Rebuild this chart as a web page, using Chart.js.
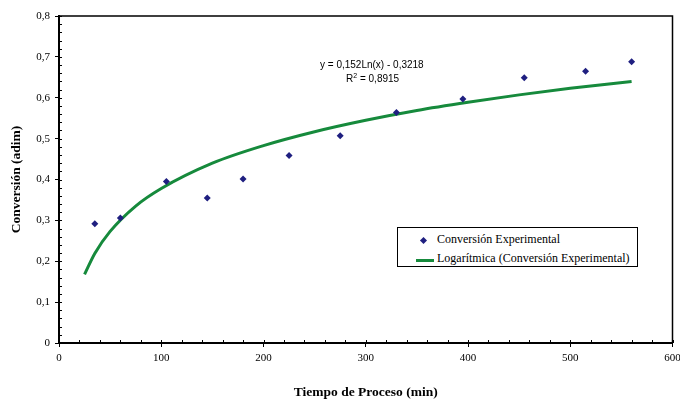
<!DOCTYPE html>
<html>
<head>
<meta charset="utf-8">
<script src="https://cdn.jsdelivr.net/npm/chart.js@4.4.1/dist/chart.umd.min.js"></script>
<style>
    body { margin: 0; background: #fff; }
    #wrap { position: relative; width: 680px; height: 401px; }
    .eq { position: absolute; font-family: "Liberation Sans", Arial, sans-serif; font-size: 10px; color: #000; white-space: nowrap; }
    #legend { position: absolute; left: 397px; top: 227px; width: 239px; height: 38px; border: 1px solid #000;
              font-family: "Liberation Serif", "Times New Roman", serif; font-size: 12px; background: #fff; }
    .item { position: absolute; left: 0; white-space: nowrap; }
    .diamond { position: absolute; left: 23px; top: 4px; width: 5px; height: 5px; background: #1f1f80; transform: rotate(45deg); }
    .lineKey { position: absolute; left: 18px; top: 6px; width: 18px; height: 3px; background: #168a3c; }
    .item span.txt { position: absolute; left: 39px; top: -2px; }
</style>
</head>
<body>
<div id="wrap">
    <canvas id="chart" width="680" height="401"></canvas>
    <div class="eq" style="left:320px; top:59px;">y = 0,152Ln(x) - 0,3218</div>
    <div class="eq" style="left:346px; top:72px;">R<sup style="font-size:7px">2</sup> = 0,8915</div>
    <div id="legend">
        <div class="item" style="top:6px"><div class="diamond"></div><span class="txt">Conversión Experimental</span></div>
        <div class="item" style="top:25px"><div class="lineKey"></div><span class="txt">Logarítmica (Conversión Experimental)</span></div>
    </div>
</div>
<script>
// Experimental points
const tiempo = [35, 60, 105, 145, 180, 225, 275, 330, 395, 455, 515, 560];
const conversion = [0.292, 0.306, 0.395, 0.355, 0.401, 0.459, 0.507, 0.564, 0.597, 0.649, 0.665, 0.688];

// Trend line
const tendX = [25, 35, 50, 75, 100, 150, 200, 250, 300, 350, 400, 450, 500, 560];
const tendY = [0.168, 0.219, 0.273, 0.335, 0.378, 0.44, 0.483, 0.517, 0.545, 0.569, 0.589, 0.607, 0.623, 0.640];

const serif = "'Liberation Serif', 'Times New Roman', serif";

// frame + minor ticks drawn inside the plot area
const framePlugin = {
    id: 'frame',
    afterDraw(chart) {
        const ctx = chart.ctx;
        const a = chart.chartArea;
        ctx.save();
        ctx.strokeStyle = '#000';
        ctx.lineWidth = 1.5;
        ctx.beginPath();
        ctx.moveTo(a.left, a.top);
        ctx.lineTo(a.right, a.top);
        ctx.lineTo(a.right, a.bottom);
        ctx.stroke();
        ctx.lineWidth = 1;
        const xs = chart.scales.x, ys = chart.scales.y;
        xs.ticks.forEach(t => {
            const px = Math.round(xs.getPixelForValue(t.value)) + 0.5;
            ctx.beginPath();
            ctx.moveTo(px, a.bottom);
            ctx.lineTo(px, a.bottom - 3);
            ctx.stroke();
        });
        ys.ticks.forEach(t => {
            const py = Math.round(ys.getPixelForValue(t.value)) + 0.5;
            ctx.beginPath();
            ctx.moveTo(a.left, py);
            ctx.lineTo(a.left + 3, py);
            ctx.stroke();
        });
        ctx.restore();
    }
};

function isMajor(v, step) {
    return Math.abs(v / step - Math.round(v / step)) < 1e-6;
}

const chart = new Chart(document.getElementById('chart').getContext('2d'), {
    type: 'scatter',
    data: {
        datasets: [{
            label: 'Conversión Experimental',
            data: tiempo.map((x, i) => ({ x: x, y: conversion[i] })),
            pointStyle: 'rectRot',
            pointRadius: 3.5,
            backgroundColor: '#1f1f80',
            borderColor: '#1f1f80',
            borderWidth: 0,
            order: 1
        }, {
            label: 'Logarítmica (Conversión Experimental)',
            data: tendX.map((x, i) => ({ x: x, y: tendY[i] })),
            showLine: true,
            pointRadius: 0,
            borderColor: '#168a3c',
            borderWidth: 3,
            cubicInterpolationMode: 'monotone',
            order: 2
        }]
    },
    options: {
        responsive: false,
        animation: false,
        layout: { padding: { left: 0, top: 16, right: 7.5, bottom: 0 } },
        plugins: {
            legend: { display: false },
            tooltip: { enabled: false }
        },
        scales: {
            x: {
                type: 'linear',
                min: 0,
                max: 600,
                afterFit: s => { s.height = 58; s.paddingLeft = 0; s.paddingRight = 0; },
                border: { color: '#000', width: 2 },
                grid: {
                    drawOnChartArea: false,
                    tickLength: 4,
                    tickColor: c => isMajor(c.tick.value, 100) ? '#000' : 'rgba(0,0,0,0)'
                },
                ticks: {
                    stepSize: 20,
                    padding: 5,
                    maxRotation: 0,
                    autoSkip: false,
                    color: '#000',
                    font: { family: serif, size: 11 },
                    callback: v => isMajor(v, 100) ? String(v) : ''
                },
                title: {
                    display: true,
                    text: 'Tiempo de Proceso (min)',
                    color: '#000',
                    font: { family: serif, size: 13.5, weight: 'bold' },
                    padding: { top: 0, bottom: 0 }
                }
            },
            y: {
                min: 0,
                max: 0.8,
                afterFit: s => { s.width = 59; s.paddingTop = 0; s.paddingBottom = 0; },
                border: { color: '#000', width: 2 },
                grid: {
                    drawOnChartArea: false,
                    tickLength: 4,
                    tickColor: c => isMajor(c.tick.value, 0.1) ? '#000' : 'rgba(0,0,0,0)'
                },
                ticks: {
                    stepSize: 0.02,
                    padding: 5,
                    autoSkip: false,
                    color: '#000',
                    font: { family: serif, size: 11 },
                    callback: v => isMajor(v, 0.1) ? (Math.round(v * 10) / 10).toString().replace('.', ',') : ''
                },
                title: {
                    display: true,
                    text: 'Conversión (adim)',
                    color: '#000',
                    font: { family: serif, size: 13.5, weight: 'bold' },
                    padding: { top: 8, bottom: 0 }
                }
            }
        }
    },
    plugins: [framePlugin]
});
</script>
</body>
</html>
